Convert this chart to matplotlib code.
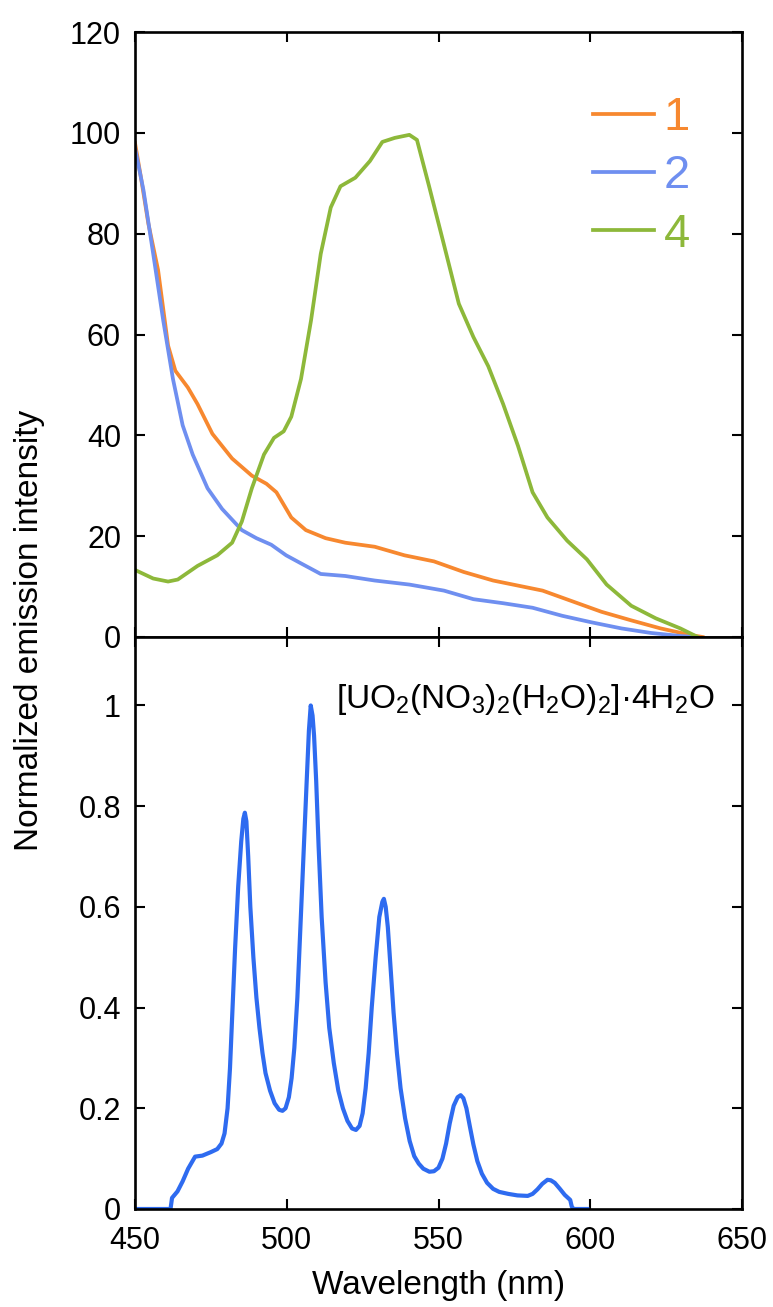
import matplotlib
matplotlib.use("Agg")
import matplotlib.pyplot as plt
from matplotlib.ticker import FuncFormatter

plt.rcParams['font.family'] = ['Liberation Sans', 'DejaVu Sans']
plt.rcParams['mathtext.fontset'] = 'custom'
plt.rcParams['mathtext.rm'] = 'Liberation Sans'
plt.rcParams['mathtext.it'] = 'Liberation Sans'

# ---- data (top panel) ----
wl_1 = [450, 452, 454.4, 457.6, 460.9, 463.3, 467.4, 470.6, 475.5, 482, 488.5, 493.3, 496.6,
        501.5, 506.3, 512.8, 519.3, 529, 538.8, 548.5, 558.3, 568, 577.8, 584.3, 594,
        603.7, 613.5, 623.2, 633, 637]
int_1 = [98, 91, 82, 72.8, 57.8, 52.8, 49.5, 46.2, 40.3, 35.4, 32, 30.4, 28.7,
         23.7, 21.2, 19.6, 18.7, 17.9, 16.2, 15, 12.9, 11.2, 10, 9.2, 7.1,
         5, 3.3, 1.7, 0.4, 0]

wl_2 = [450, 452.8, 456, 459.3, 462.5, 465.7, 469, 473.9, 478.7, 485.2, 490, 494.9,
        499.8, 504.7, 511.2, 519.3, 529, 540.4, 551.8, 561.5, 571.3, 581, 590.8,
        600.5, 610.3, 620, 629.7, 634.6]
int_2 = [97, 88.6, 76, 62.8, 51.2, 42, 36.2, 29.5, 25.4, 21.2, 19.6, 18.3,
         16.2, 14.6, 12.5, 12.1, 11.2, 10.4, 9.2, 7.5, 6.7, 5.8, 4.2,
         2.9, 1.7, 0.8, 0.2, 0]

wl_4 = [450, 456, 460.9, 464.1, 470.6, 477.1, 482, 485.2, 488.5, 492.5, 495.8, 499,
        501.5, 504.7, 508, 511.2, 514.5, 517.7, 522.6, 527.4, 531.5, 535.6, 540.4,
        542.9, 546.9, 551.8, 556.7, 561.5, 566.4, 571.3, 576.2, 581, 585.9, 592.4,
        598.9, 605.4, 613.5, 621.6, 629.7, 635.4]
int_4 = [13.3, 11.6, 11, 11.4, 14.1, 16.2, 18.7, 22.9, 29.5, 36.2, 39.5, 40.8,
         43.7, 51.2, 62.8, 76, 85.2, 89.4, 91.1, 94.4, 98.2, 99, 99.6,
         98.6, 89.4, 77.8, 66.1, 59.5, 53.7, 46.2, 37.9, 28.7, 23.7, 19.1,
         15.4, 10.4, 6.2, 3.7, 1.7, 0]

# ---- data (bottom panel) ----
wl_u = [450, 461.7, 462.2, 464, 465.7, 467.5, 469.8, 472.2, 475, 477.1, 478.5, 479.5,
        480.5, 481.3, 482, 483, 484, 485, 485.7, 486.2, 486.7, 487.3, 488, 489, 490,
        491, 492, 493, 494.5, 496, 497.5, 498.6, 499.6, 500.7, 501.6, 502.5, 503.5,
        504.5, 505.5, 506.5, 507.3, 507.9, 508.5, 509, 509.7, 510.5, 511.5, 512.8,
        514, 515.5, 517, 518.5, 520, 521.5, 522.8, 524, 525, 526, 527, 528, 529.3,
        530.5, 531.5, 532, 532.6, 533.3, 534.2, 535.2, 536.3, 537.5, 539, 540.5,
        542, 543.5, 545, 547, 548.5, 550, 551.3, 552.5, 553.7, 555, 556.3, 557.3,
        558.2, 559.2, 560.3, 561.5, 562.8, 564.3, 566, 568, 570, 573, 576, 579.4,
        581, 582.6, 584.2, 585.9, 587, 588.3, 590, 591.6, 593.4, 593.9, 594.5, 599]
int_u = [0, 0, 0.022, 0.035, 0.055, 0.08, 0.104, 0.106, 0.113, 0.119, 0.13, 0.15,
         0.2, 0.28, 0.38, 0.52, 0.64, 0.73, 0.775, 0.787, 0.77, 0.70, 0.60, 0.50, 0.42,
         0.36, 0.31, 0.27, 0.235, 0.21, 0.197, 0.195, 0.2, 0.222, 0.26, 0.32, 0.42,
         0.56, 0.70, 0.84, 0.95, 1.0, 0.98, 0.94, 0.85, 0.72, 0.58, 0.45,
         0.36, 0.29, 0.235, 0.2, 0.175, 0.16, 0.157, 0.165, 0.19, 0.24, 0.31, 0.40, 0.50,
         0.58, 0.61, 0.616, 0.6, 0.56, 0.48, 0.39, 0.31, 0.24, 0.18, 0.135,
         0.105, 0.09, 0.08, 0.074, 0.075, 0.082, 0.1, 0.13, 0.17, 0.205, 0.222, 0.226,
         0.22, 0.2, 0.165, 0.128, 0.095, 0.07, 0.052, 0.04, 0.034, 0.03, 0.027, 0.026,
         0.03, 0.039, 0.05, 0.058, 0.057, 0.052, 0.04, 0.028, 0.018, 0.005, 0, 0]

series_labels = ['1', '2', '4']
colors = ['#F7882F', '#6F8FF0', '#8DB83A']
color_u = '#2E6BF0'
x_ticks = [450, 500, 550, 600, 650]
top_yticks = [0, 20, 40, 60, 80, 100, 120]
bot_yticks = [0, 0.2, 0.4, 0.6, 0.8, 1.0]
annotation = r'[UO$_\mathregular{2}$(NO$_\mathregular{3}$)$_\mathregular{2}$(H$_\mathregular{2}$O)$_\mathregular{2}$]·4H$_\mathregular{2}$O'

fig = plt.figure(figsize=(7.73, 13.07), dpi=100)
L, R = 135 / 773, 742 / 773
ax1 = fig.add_axes([L, 1 - 637 / 1307, R - L, 605 / 1307])
ax2 = fig.add_axes([L, 1 - 1209 / 1307, R - L, 572 / 1307])

for ax in (ax1, ax2):
    for s in ax.spines.values():
        s.set_linewidth(1.9)
    ax.tick_params(direction='in', length=7.5, width=1.5, top=True, right=True,
                   labelsize=22, pad=10)
    ax.set_xlim(450, 650)
    ax.set_xticks(x_ticks)

ax1.plot(wl_1, int_1, color=colors[0], lw=2.7, label=series_labels[0])
ax1.plot(wl_2, int_2, color=colors[1], lw=2.7, label=series_labels[1])
ax1.plot(wl_4, int_4, color=colors[2], lw=2.7, label=series_labels[2])
ax1.set_ylim(0, 120)
ax1.set_yticks(top_yticks)
ax1.tick_params(axis='x', labelbottom=False)

leg = ax1.legend(loc='upper right', bbox_to_anchor=(0.945, 0.925), frameon=False,
                 fontsize=34, handlelength=1.3, handletextpad=0.2,
                 labelspacing=0.3, labelcolor='linecolor', borderaxespad=0)

ax2.plot(wl_u, int_u, color=color_u, lw=3.0, solid_joinstyle='round')
ax2.set_ylim(0, 1.136)
ax2.set_yticks(bot_yticks)
ax2.yaxis.set_major_formatter(FuncFormatter(lambda v, p: f'{v:g}'))
ax2.tick_params(axis='x', pad=12)
ax2.set_xlabel('Wavelength (nm)', fontsize=24, labelpad=10)
ax2.text(0.331, 0.89, annotation, transform=ax2.transAxes, fontsize=24,
         ha='left', va='center')

fig.text(30 / 773, 1 - 630 / 1307, 'Normalized emission intensity', rotation=90,
         fontsize=24, ha='center', va='center')

fig.savefig('out.png', dpi=100)
